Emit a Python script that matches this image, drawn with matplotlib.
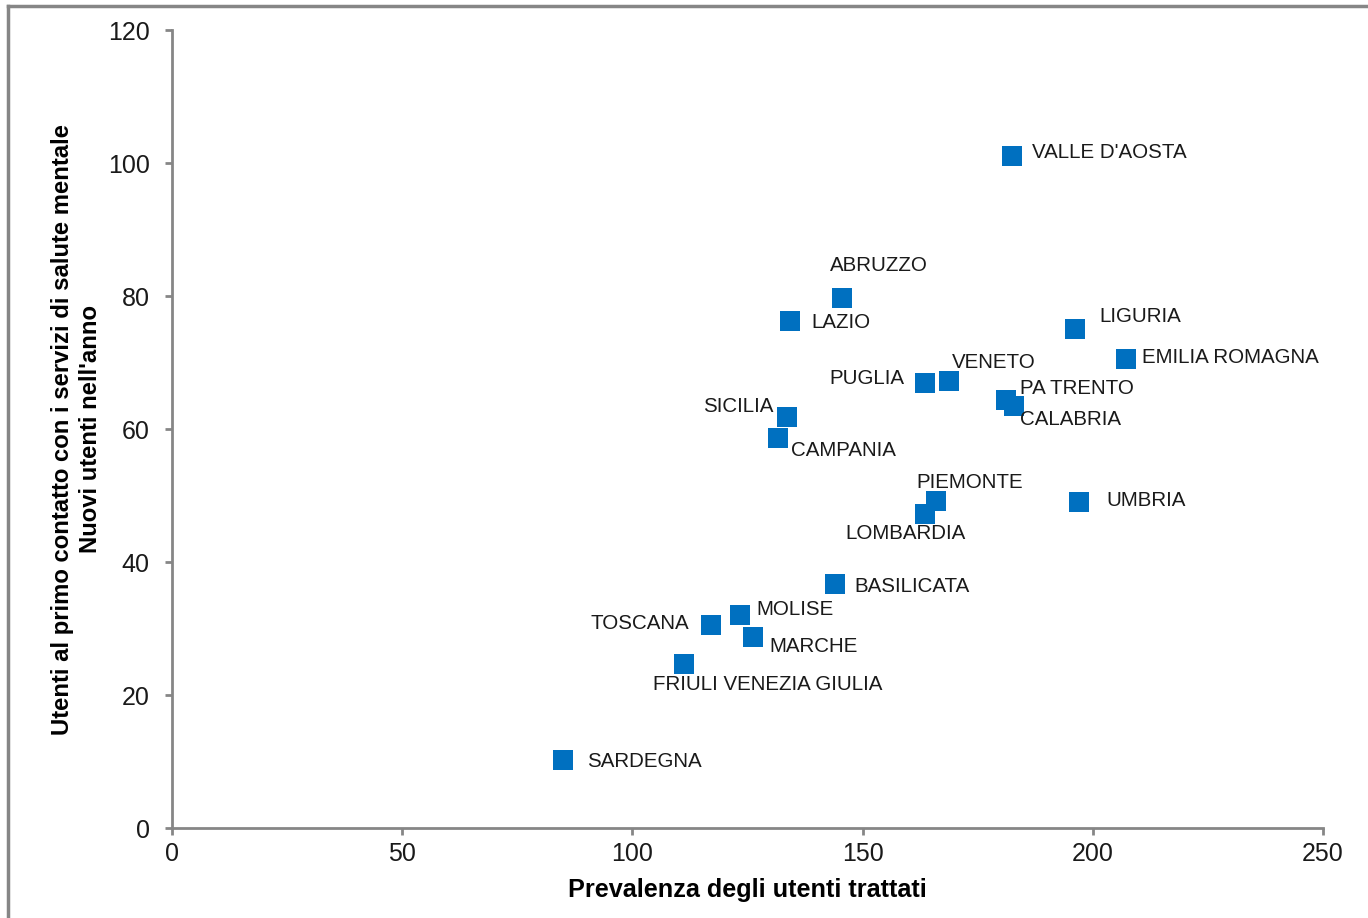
import matplotlib.pyplot as plt
from matplotlib.lines import Line2D

plt.rcParams['font.family'] = ['Liberation Sans', 'DejaVu Sans']

regioni = ["VALLE D'AOSTA", "ABRUZZO", "LAZIO", "LIGURIA", "EMILIA ROMAGNA",
           "PUGLIA", "VENETO", "PA TRENTO", "CALABRIA", "SICILIA", "CAMPANIA",
           "PIEMONTE", "LOMBARDIA", "UMBRIA", "BASILICATA", "MOLISE", "TOSCANA",
           "MARCHE", "FRIULI VENEZIA GIULIA", "SARDEGNA"]
prevalenza = [182.4, 145.5, 134.2, 196.1, 207.2,
              163.6, 168.8, 181.1, 182.9, 133.6, 131.6,
              165.9, 163.6, 197.0, 144.0, 123.4, 117.1,
              126.2, 111.2, 84.9]
nuovi_utenti = [101.0, 79.7, 76.2, 75.0, 70.5,
                66.9, 67.2, 64.4, 63.5, 61.8, 58.6,
                49.2, 47.2, 49.0, 36.7, 32.0, 30.5,
                28.7, 24.7, 10.2]

# label offsets in pixels (dx, dy, horizontal alignment)
offsets = {
    "VALLE D'AOSTA": (20, 4, "left"),
    "ABRUZZO": (-12, 33, "left"),
    "LAZIO": (22, -1, "left"),
    "LIGURIA": (25, 13, "left"),
    "EMILIA ROMAGNA": (16, 2, "left"),
    "PUGLIA": (-21, 5, "right"),
    "VENETO": (3, 19, "left"),
    "PA TRENTO": (14, 11, "left"),
    "CALABRIA": (6, -14, "left"),
    "SICILIA": (-14, 11, "right"),
    "CAMPANIA": (13, -12, "left"),
    "PIEMONTE": (-19, 18, "left"),
    "LOMBARDIA": (-80, -19, "left"),
    "UMBRIA": (27, 2, "left"),
    "BASILICATA": (19, -3, "left"),
    "MOLISE": (16, 6, "left"),
    "TOSCANA": (-22, 2, "right"),
    "MARCHE": (16, -9, "left"),
    "FRIULI VENEZIA GIULIA": (-31, -21, "left"),
    "SARDEGNA": (24, -1, "left"),
}

grey = "#868686"

fig = plt.figure(figsize=(13.68, 9.18), dpi=100)
ax = fig.add_axes([0.1257, 0.098, 0.8414, 0.8693])

ax.scatter(prevalenza, nuovi_utenti, marker="s", s=190, color="#0070C0",
           linewidths=0, zorder=3)

for nome, x, y in zip(regioni, prevalenza, nuovi_utenti):
    dx, dy, ha = offsets[nome]
    ax.annotate(nome, (x, y), xytext=(dx, dy), textcoords="offset pixels",
                ha=ha, va="center", fontsize=14.8, color="#1a1a1a")

ax.set_xlim(0, 250)
ax.set_ylim(0, 120)
ax.set_xticks([0, 50, 100, 150, 200, 250])
ax.set_yticks([0, 20, 40, 60, 80, 100, 120])

for s in ["top", "right"]:
    ax.spines[s].set_visible(False)
for s in ["left", "bottom"]:
    ax.spines[s].set_color(grey)
    ax.spines[s].set_linewidth(2)

ax.tick_params(axis="both", direction="out", length=5, width=2, color=grey,
               labelsize=18, labelcolor="#1a1a1a")
ax.tick_params(axis="y", pad=11)
ax.tick_params(axis="x", pad=5)

ax.set_xlabel("Prevalenza degli utenti trattati", fontsize=18.2,
              fontweight="bold", labelpad=9)
ax.set_ylabel("Utenti al primo contatto con i servizi di salute mentale\n"
              "Nuovi utenti nell'anno", fontsize=17.2, fontweight="bold",
              labelpad=4, linespacing=1.3)

# outer frame of the chart area
fig.add_artist(Line2D([0.006, 0.006], [0.0, 0.9935], transform=fig.transFigure,
                      color=grey, lw=2.5))
fig.add_artist(Line2D([0.006, 1.0], [0.9935, 0.9935], transform=fig.transFigure,
                      color=grey, lw=2.5))

fig.savefig("out.png", dpi=100)
